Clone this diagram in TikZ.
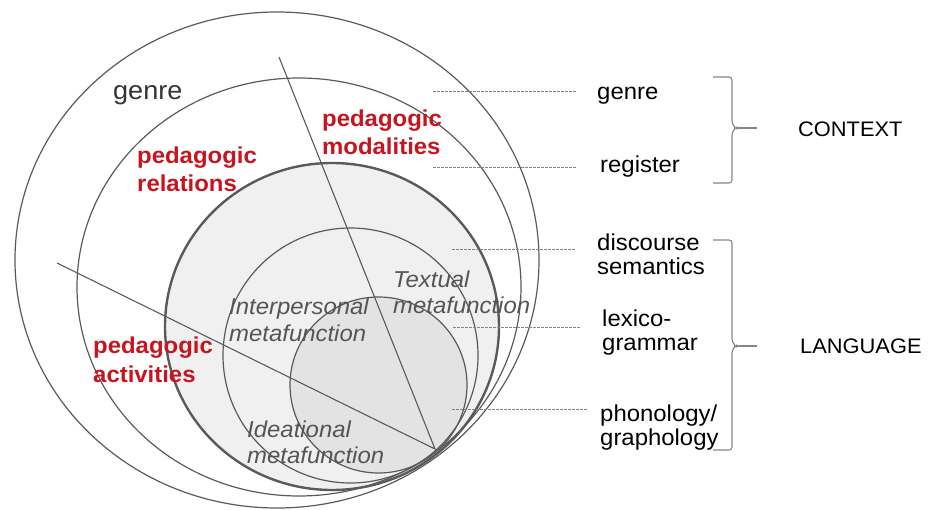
\documentclass[tikz,border=0pt]{standalone}
\usepackage{fontspec}
\setmainfont{Liberation Sans}[FakeStretch=1.04]
\definecolor{ringgray}{HTML}{5A5A5A}
\definecolor{pedred}{HTML}{C8141E}
\definecolor{discfill}{HTML}{F0F0F0}
\definecolor{corefill}{HTML}{E3E3E3}
\definecolor{leadergray}{HTML}{858585}
\definecolor{metagray}{HTML}{555555}
\tikzset{
  ring/.style={draw=ringgray, line width=1.2pt},
  thickring/.style={draw=ringgray, line width=2.4pt},
  divider/.style={draw=ringgray, line width=1.1pt},
  leader/.style={draw=leadergray, line width=0.8pt, dash pattern=on 2.5pt off 1.5pt},
  bracket/.style={draw=leadergray, line width=1.1pt, rounded corners=3pt},
  tick/.style={draw=leadergray, line width=1.1pt},
  % multi-line nodes sit on the baseline of their last line
  stratum/.style={font=\fontsize{23}{24}\selectfont, text=black, inner sep=0pt, anchor=base west, align=left},
  plane/.style={font=\fontsize{21}{22}\selectfont, text=black, inner sep=0pt, anchor=base west},
  pedlabel/.style={font=\fontsize{23}{28.5}\selectfont\bfseries, text=pedred, inner sep=0pt, anchor=base west, align=left},
  metalabel/.style={font=\fontsize{23}{26}\selectfont\itshape, text=metagray, inner sep=0pt, anchor=base west, align=left},
}
\begin{document}
\begin{tikzpicture}[x=1pt, y=-1pt]
\useasboundingbox (0,0) rectangle (936,510);

% shaded discs: language (light) and phonology/graphology core (darker)
\fill[discfill] (332,326.5) ellipse [x radius=167pt, y radius=163.5pt];
\fill[corefill] (378.5,385) ellipse [x radius=88.5pt, y radius=88pt];

% nested strata
\draw[ring] (277,260) ellipse [x radius=262pt, y radius=248pt];
\draw[ring] (299,287) ellipse [x radius=222pt, y radius=209pt];
\draw[ring] (350.5,355.5) circle [radius=127.5pt];
\draw[ring] (378.5,385) ellipse [x radius=88.5pt, y radius=88pt];
\draw[thickring] (332,326.5) ellipse [x radius=167pt, y radius=163.5pt];

% the two dividing lines meeting at the apex
\coordinate (apex) at (435,449);
\coordinate (topend) at (279,57);
\coordinate (leftend) at (57,263);
\draw[divider] (topend) -- (apex) -- (leftend);

% labels inside the circles
\node[font=\fontsize{26}{28}\selectfont, text=black!80, inner sep=0pt, anchor=base west] (genreIn) at (113,100) {genre};
\node[pedlabel] (pmod) at (322,155) {pedagogic\\modalities};
\node[pedlabel] (prel) at (137,192) {pedagogic\\relations};
\node[pedlabel] (pact) at (93,382) {pedagogic\\activities};
\node[metalabel] (mtext) at (393,313) {Textual\\metafunction};
\node[metalabel] (minter) at (229,341) {Interpersonal\\metafunction};
\node[metalabel] (mideal) at (247,463) {Ideational\\metafunction};

% strata names on the right
\node[stratum] (sgenre) at (597,100) {genre};
\node[stratum] (sreg) at (600,173) {register};
\node[stratum] (sdisc) at (597,275) {discourse\\semantics};
\node[stratum] (slex) at (602,350) {lexico-\\grammar};
\node[stratum] (sphon) at (600,445) {phonology/\\graphology};

% dashed leaders from the rings to the strata names
\coordinate (dgenre) at (433,91);
\coordinate (dreg) at (433,167);
\coordinate (ddisc) at (452,249);
\coordinate (dlex) at (453,327);
\coordinate (dphon) at (452,409);
\draw[leader, shorten >=21pt] (dgenre) -- (dgenre -| sgenre.west);
\draw[leader, shorten >=24pt] (dreg) -- (dreg -| sreg.west);
\draw[leader, shorten >=21pt] (ddisc) -- (ddisc -| sdisc.west);
\draw[leader, shorten >=22pt] (dlex) -- (dlex -| slex.west);
\draw[leader, shorten >=12pt] (dphon) -- (dphon -| sphon.west);

% planes
\node[plane] (context) at (798,137) {CONTEXT};
\node[plane] (language) at (800,353) {LANGUAGE};

% brackets grouping the strata
\coordinate (ctxtip) at (736,128);
\coordinate (lngtip) at (736,346);
\draw[bracket] (713,77) -- (732,77) -- (732,124) -- (ctxtip) -- (732,132) -- (732,183) -- (713,183);
\draw[tick, shorten >=41pt] (ctxtip) -- (ctxtip -| context.west);
\draw[bracket] (713,240) -- (732,240) -- (732,342) -- (lngtip) -- (732,350) -- (732,450) -- (713,450);
\draw[tick, shorten >=43pt] (lngtip) -- (lngtip -| language.west);
\end{tikzpicture}
\end{document}
